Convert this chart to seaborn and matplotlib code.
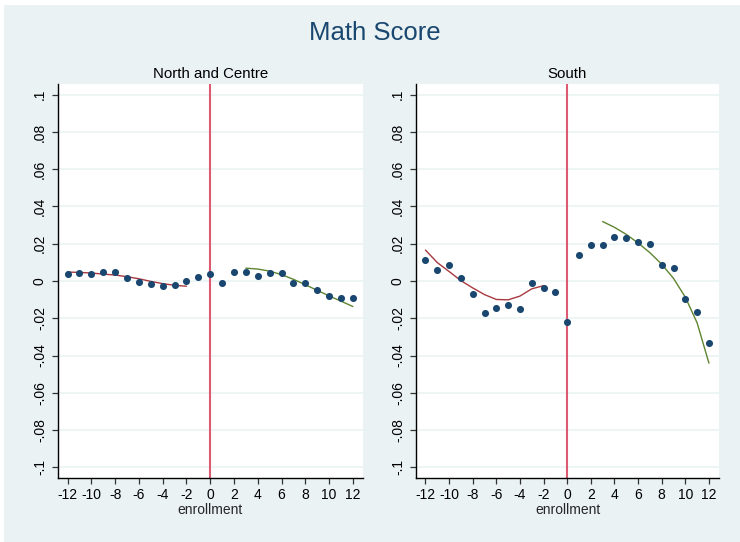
import numpy as np
import pandas as pd
import matplotlib
matplotlib.use("Agg")
import matplotlib.pyplot as plt
from matplotlib.patches import Rectangle
import seaborn as sns

sns.set_theme(style="white")
plt.rcParams["font.family"] = ["Liberation Sans", "DejaVu Sans"]

# Binned means of the math score by months from enrollment cutoff
enrollment = list(range(-12, 13))
score_north = [0.0039, 0.0043, 0.0037, 0.0050, 0.0050, 0.0018, -0.0005, -0.0016,
               -0.0027, -0.0023, -0.0002, 0.0021, 0.0036, -0.0009, 0.0046, 0.0048,
               0.0027, 0.0043, 0.0044, -0.0012, -0.0011, -0.0050, -0.0082, -0.0091,
               -0.0091]
score_south = [0.0110, 0.0057, 0.0088, 0.0014, -0.0072, -0.0172, -0.0144, -0.0130,
               -0.0148, -0.0009, -0.0037, -0.0058, -0.0219, 0.0138, 0.0195, 0.0195,
               0.0236, 0.0232, 0.0207, 0.0198, 0.0084, 0.0071, -0.0097, -0.0168,
               -0.0332]

# Fitted curves on each side of the cutoff
fit_left_x = list(range(-12, -1))
fit_right_x = list(range(3, 13))
fit_north_left = [0.0048, 0.0046, 0.0043, 0.0037, 0.0032, 0.0023, 0.0012, -0.0002,
                  -0.0014, -0.0023, -0.0028]
fit_north_right = [0.0069, 0.0064, 0.0053, 0.0034, 0.0009, -0.0020, -0.0050, -0.0080,
                   -0.0108, -0.0137]
fit_south_left = [0.0166, 0.0099, 0.0051, 0.0002, -0.0037, -0.0073, -0.0099, -0.0101,
                  -0.0081, -0.0042, -0.0025]
fit_south_right = [0.0319, 0.0288, 0.0250, 0.0204, 0.0152, 0.0090, 0.0014, -0.0087,
                   -0.0225, -0.0441]

panel_titles = ["North and Centre", "South"]
ytick_vals = [-0.1, -0.08, -0.06, -0.04, -0.02, 0, 0.02, 0.04, 0.06, 0.08, 0.1]
ytick_labels = ["-.1", "-.08", "-.06", "-.04", "-.02", "0", ".02", ".04", ".06", ".08", ".1"]
xtick_vals = list(range(-12, 13, 2))

NAVY = "#1A476F"
MAROON = "#A8383F"
GREEN = "#5E8530"
CUTOFF = "#DC5A72"
BG = "#EAF2F3"

fig = plt.figure(figsize=(7.4, 5.42), dpi=100, facecolor="white")
fig.patches.append(Rectangle((4 / 740, 0), 1, 1 - 5 / 542, transform=fig.transFigure,
                             facecolor=BG, edgecolor="none", zorder=-10))

ax_specs = [
    (58 / 740, (542 - 478) / 542, (363 - 58) / 740, (478 - 84) / 542),
    (416 / 740, (542 - 478) / 542, (719 - 416) / 740, (478 - 84) / 542),
]

panels = [
    (score_north, fit_north_left, fit_north_right),
    (score_south, fit_south_left, fit_south_right),
]

for spec, title, (scores, fl, fr) in zip(ax_specs, panel_titles, panels):
    ax = fig.add_axes(spec)
    ax.set_facecolor("white")
    for yv in ytick_vals:
        ax.axhline(yv, color=BG, lw=1.1, zorder=0)
    ax.axvline(0, color=CUTOFF, lw=1.5, zorder=1)

    pts = pd.DataFrame({"enrollment": enrollment, "score": scores})
    left = pd.DataFrame({"enrollment": fit_left_x, "fit": fl})
    right = pd.DataFrame({"enrollment": fit_right_x, "fit": fr})

    sns.scatterplot(data=pts, x="enrollment", y="score", ax=ax, color=NAVY,
                    s=26, linewidth=0, zorder=3)
    sns.lineplot(data=left, x="enrollment", y="fit", ax=ax, color=MAROON,
                 lw=1.0, zorder=2)
    sns.lineplot(data=right, x="enrollment", y="fit", ax=ax, color=GREEN,
                 lw=1.0, zorder=2)

    ax.set_xlim(-12.8, 12.85)
    ax.set_ylim(-0.1057, 0.1057)
    ax.set_xticks(xtick_vals)
    ax.set_xticklabels([str(v) for v in xtick_vals], fontsize=10)
    ax.set_yticks(ytick_vals)
    ax.set_yticklabels(ytick_labels, fontsize=10, rotation=90, va="center")
    ax.tick_params(axis="both", which="major", direction="out", length=4,
                   width=0.9, color="#333333", labelcolor="black", bottom=True, left=True)
    ax.tick_params(axis="y", pad=4)
    ax.tick_params(axis="x", pad=3)
    for side in ["top", "right"]:
        ax.spines[side].set_visible(False)
    for side in ["left", "bottom"]:
        ax.spines[side].set_color("black")
        ax.spines[side].set_linewidth(1.0)
    ax.set_xlabel("enrollment", fontsize=10, labelpad=1)
    ax.set_ylabel("")
    ax.set_title(title, fontsize=10.8, pad=4, color="black")

fig.text(0.507, 1 - 33 / 542, "Math Score", ha="center", va="center",
         fontsize=18.5, color=NAVY)

fig.savefig("out.png", dpi=100, facecolor=fig.get_facecolor())
